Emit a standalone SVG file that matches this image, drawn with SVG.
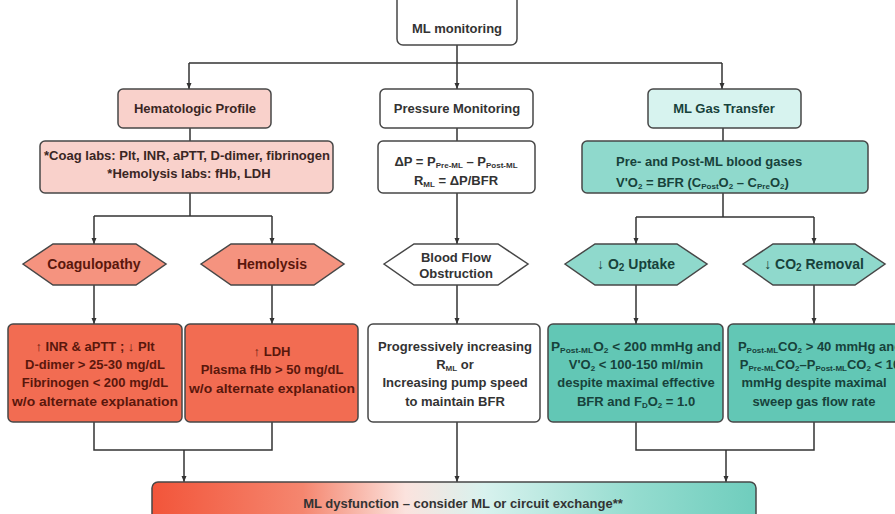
<svg xmlns="http://www.w3.org/2000/svg" width="895" height="514" viewBox="0 0 895 514">
<defs>
<marker id="ah" viewBox="0 0 6 6" markerWidth="6" markerHeight="6" refX="6" refY="3" orient="auto" markerUnits="userSpaceOnUse">
<path d="M0,0.5 L6,3 L0,5.5 z" fill="#333"/>
</marker>
<linearGradient id="bottomGrad" x1="0" y1="0" x2="1" y2="0">
<stop offset="0" stop-color="#f2553a"/>
<stop offset="0.25" stop-color="#f5866f"/>
<stop offset="0.42" stop-color="#fbe3de"/>
<stop offset="0.55" stop-color="#d8f2ee"/>
<stop offset="0.8" stop-color="#94dccf"/>
<stop offset="1" stop-color="#6fcdbd"/>
</linearGradient>
</defs>
<style>
.box{stroke:#474747;stroke-width:1.5}
.t{font-family:"Liberation Sans",Arial,sans-serif;font-size:13px;font-weight:bold;text-anchor:middle}
.h{font-size:13px}
.hx{font-size:14px}
.sub{font-size:8px}
.pink{fill:#f9d1cb}
.salmon{fill:#f5937f}
.red{fill:#f26c52}
.white{fill:#ffffff}
.lcyan{fill:#d7f3ef}
.cyan{fill:#8fd9cc}
.teal{fill:#62c7b5}
.dk{fill:#3a2624}
.rk{fill:#5a170c}
.gk{fill:#17423b}
.bk{fill:#333333}
.c{fill:none;stroke:#333;stroke-width:1.5}
</style>
<rect width="895" height="514" fill="#ffffff"/>

<g id="connectors">
<path class="c" d="M457,45 V63 M189,63 H722"/>
<path class="c" d="M189,63 V89" marker-end="url(#ah)"/>
<path class="c" d="M457,63 V89" marker-end="url(#ah)"/>
<path class="c" d="M722,63 V89" marker-end="url(#ah)"/>
<path class="c" d="M190,128 V141 M457,128 V141 M723,128 V141"/>
<path class="c" d="M190,193 V216 M94,216 H272 M723,193 V217 M636,217 H814"/>
<path class="c" d="M94,216 V244" marker-end="url(#ah)"/>
<path class="c" d="M272,216 V244" marker-end="url(#ah)"/>
<path class="c" d="M457,193 V244" marker-end="url(#ah)"/>
<path class="c" d="M636,217 V244" marker-end="url(#ah)"/>
<path class="c" d="M814,217 V244" marker-end="url(#ah)"/>
<path class="c" d="M94,285 V324" marker-end="url(#ah)"/>
<path class="c" d="M272,285 V324" marker-end="url(#ah)"/>
<path class="c" d="M457,285 V324" marker-end="url(#ah)"/>
<path class="c" d="M636,285 V324" marker-end="url(#ah)"/>
<path class="c" d="M814,285 V324" marker-end="url(#ah)"/>
<path class="c" d="M94,422 V450 H272 V422 M636,422 V450 H814 V422"/>
<path class="c" d="M184,450 V482" marker-end="url(#ah)"/>
<path class="c" d="M457,422 V482" marker-end="url(#ah)"/>
<path class="c" d="M726,450 V482" marker-end="url(#ah)"/>
</g>

<g id="ml-monitoring">
<rect class="box white" x="397" y="-10" width="120" height="55" rx="6"/>
<text class="t bk" x="457" y="33" font-size="14.5">ML monitoring</text>
</g>

<g id="hematologic-profile">
<rect class="box pink" x="118" y="89" width="153" height="39" rx="5"/>
<text class="t h dk" x="195" y="113" font-size="13.5">Hematologic Profile</text>
</g>

<g id="pressure-monitoring">
<rect class="box white" x="380" y="89" width="153" height="39" rx="5"/>
<text class="t h bk" x="457" y="113" font-size="13.5">Pressure Monitoring</text>
</g>

<g id="ml-gas-transfer">
<rect class="box lcyan" x="648" y="89" width="153" height="39" rx="5"/>
<text class="t h gk" x="724" y="113" font-size="14">ML Gas Transfer</text>
</g>

<g id="coag-labs">
<rect class="box pink" x="40" y="141" width="293" height="52" rx="5"/>
<text class="t dk" x="187" y="160" font-size="12.5" textLength="286" lengthAdjust="spacingAndGlyphs">*Coag labs: Plt, INR, aPTT, D-dimer, fibrinogen</text>
<text class="t dk" x="189" y="178" font-size="12.5">*Hemolysis labs: fHb, LDH</text>
</g>

<g id="pressure-formulas">
<rect class="box white" x="378" y="141" width="157" height="52" rx="5"/>
<text class="t bk" x="456" y="166">ΔP = P<tspan class="sub" dy="2">Pre-ML</tspan><tspan dy="-2"> – P</tspan><tspan class="sub" dy="2">Post-ML</tspan></text>
<text class="t bk" x="456" y="185">R<tspan class="sub" dy="2">ML</tspan><tspan dy="-2"> = ΔP/BFR</tspan></text>
</g>

<g id="blood-gases">
<rect class="box cyan" x="582" y="141" width="286" height="52" rx="5"/>
<text class="t gk" x="616" y="166" style="text-anchor:start" font-size="13">Pre- and Post-ML blood gases</text>
<text class="t gk" x="616" y="187" style="text-anchor:start" font-size="13">V'O<tspan class="sub" dy="2">2</tspan><tspan dy="-2"> = BFR (C</tspan><tspan class="sub" dy="2">Post</tspan><tspan dy="-2">O</tspan><tspan class="sub" dy="2">2</tspan><tspan dy="-2"> – C</tspan><tspan class="sub" dy="2">Pre</tspan><tspan dy="-2">O</tspan><tspan class="sub" dy="2">2</tspan><tspan dy="-2">)</tspan></text>
</g>

<g id="coagulopathy">
<polygon class="box salmon" points="23,264 53,244 136,244 166,264 136,285 53,285"/>
<text class="t hx rk" x="94" y="269">Coagulopathy</text>
</g>

<g id="hemolysis">
<polygon class="box salmon" points="201,264 231,244 314,244 344,264 314,285 231,285"/>
<text class="t hx rk" x="272" y="269">Hemolysis</text>
</g>

<g id="blood-flow-obstruction">
<polygon class="box white" points="384,264 414,244 498,244 528,264 498,285 414,285"/>
<text class="t bk" x="456" y="262" font-size="13.5">Blood Flow</text>
<text class="t bk" x="456" y="278" font-size="13.5">Obstruction</text>
</g>

<g id="o2-uptake">
<polygon class="box cyan" points="565,264 595,244 677,244 707,264 677,285 595,285"/>
<text class="t hx gk" x="636" y="269">↓ O<tspan dy="2" font-size="10">2</tspan><tspan dy="-2"> Uptake</tspan></text>
</g>

<g id="co2-removal">
<polygon class="box cyan" points="743,264 773,244 855,244 885,264 855,285 773,285"/>
<text class="t hx gk" x="814" y="269">↓ CO<tspan dy="2" font-size="10">2</tspan><tspan dy="-2"> Removal</tspan></text>
</g>

<g id="coag-criteria">
<rect class="box red" x="8" y="324" width="174" height="98" rx="5"/>
<text class="t rk" x="95" y="351">↑ INR &amp; aPTT ; ↓ Plt</text>
<text class="t rk" x="95" y="369">D-dimer &gt; 25-30 mg/dL</text>
<text class="t rk" x="95" y="387">Fibrinogen &lt; 200 mg/dL</text>
<text class="t rk" x="95" y="406" textLength="166" lengthAdjust="spacingAndGlyphs">w/o alternate explanation</text>
</g>

<g id="hemolysis-criteria">
<rect class="box red" x="185" y="324" width="173" height="98" rx="5"/>
<text class="t rk" x="272" y="356">↑ LDH</text>
<text class="t rk" x="272" y="374">Plasma fHb &gt; 50 mg/dL</text>
<text class="t rk" x="272" y="393" textLength="166" lengthAdjust="spacingAndGlyphs">w/o alternate explanation</text>
</g>

<g id="pressure-criteria">
<rect class="box white" x="368" y="324" width="172" height="98" rx="5"/>
<text class="t bk" x="455" y="351">Progressively increasing</text>
<text class="t bk" x="455" y="369">R<tspan class="sub" dy="2">ML</tspan><tspan dy="-2"> or</tspan></text>
<text class="t bk" x="455" y="387">Increasing pump speed</text>
<text class="t bk" x="455" y="406">to maintain BFR</text>
</g>

<g id="o2-criteria">
<rect class="box teal" x="548" y="324" width="175" height="98" rx="5"/>
<text class="t gk" x="636" y="351" textLength="170" lengthAdjust="spacingAndGlyphs">P<tspan class="sub" dy="2">Post-ML</tspan><tspan dy="-2">O</tspan><tspan class="sub" dy="2">2</tspan><tspan dy="-2"> &lt; 200 mmHg and</tspan></text>
<text class="t gk" x="636" y="369">V'O<tspan class="sub" dy="2">2</tspan><tspan dy="-2"> &lt; 100-150 ml/min</tspan></text>
<text class="t gk" x="636" y="387">despite maximal effective</text>
<text class="t gk" x="636" y="406">BFR and F<tspan class="sub" dy="2">D</tspan><tspan dy="-2">O</tspan><tspan class="sub" dy="2">2</tspan><tspan dy="-2"> = 1.0</tspan></text>
</g>

<g id="co2-criteria">
<rect class="box teal" x="728" y="324" width="175" height="98" rx="5"/>
<text class="t gk" x="820" y="351">P<tspan class="sub" dy="2">Post-ML</tspan><tspan dy="-2">CO</tspan><tspan class="sub" dy="2">2</tspan><tspan dy="-2"> &gt; 40 mmHg and</tspan></text>
<text class="t gk" x="820" y="369">P<tspan class="sub" dy="2">Pre-ML</tspan><tspan dy="-2">CO</tspan><tspan class="sub" dy="2">2</tspan><tspan dy="-2">–P</tspan><tspan class="sub" dy="2">Post-ML</tspan><tspan dy="-2">CO</tspan><tspan class="sub" dy="2">2</tspan><tspan dy="-2"> &lt; 10</tspan></text>
<text class="t gk" x="814" y="387">mmHg despite maximal</text>
<text class="t gk" x="814" y="406">sweep gas flow rate</text>
</g>

<g id="ml-dysfunction">
<rect class="box" fill="url(#bottomGrad)" x="152" y="482" width="604" height="50" rx="6"/>
<text class="t bk" x="463" y="508" font-size="15">ML dysfunction – consider ML or circuit exchange**</text>
</g>
</svg>
